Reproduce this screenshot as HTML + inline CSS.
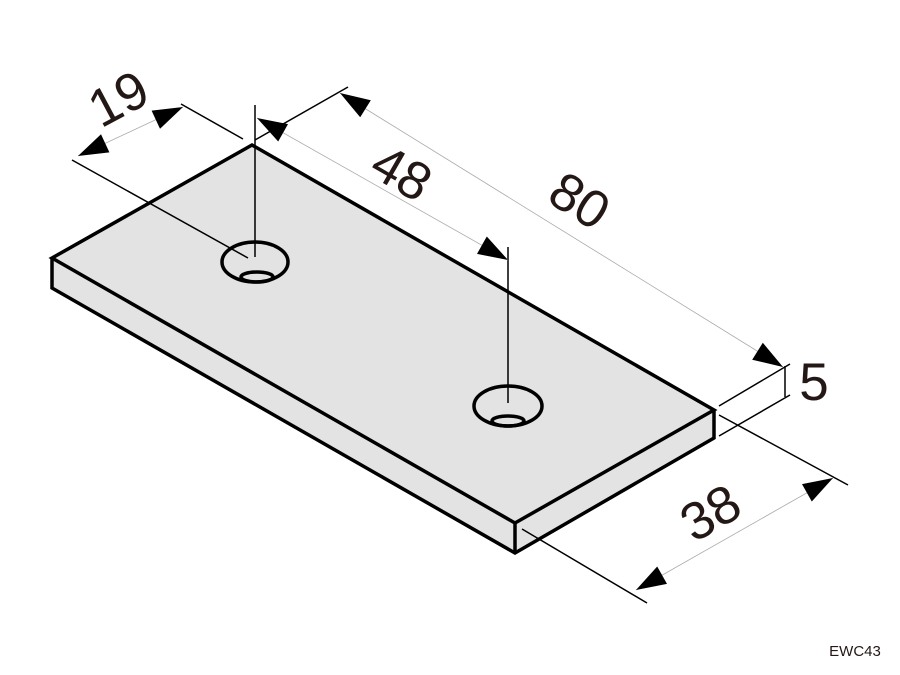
<!DOCTYPE html>
<html><head><meta charset="utf-8"><style>html,body{margin:0;padding:0;background:#fff}svg{display:block}</style></head>
<body>
<svg width="900" height="675" viewBox="0 0 900 675" xmlns="http://www.w3.org/2000/svg">
<polygon points="252,145 714,410 714,438 515,553 52,288 52,258" fill="#e3e3e3"/>
<g fill="none" stroke="#000" stroke-width="3.5" stroke-linejoin="miter">
<polygon points="252,145 714,410 515,523 52,258"/>
<polyline points="52,258 52,288 515,553 714,438 714,410"/>
<line x1="515" y1="523" x2="515" y2="553"/>
</g>
<g fill="none" stroke="#000" stroke-width="3.5">
<ellipse cx="255" cy="262" rx="33" ry="20"/>
<ellipse cx="257" cy="277" rx="16" ry="5"/>
<ellipse cx="508" cy="406" rx="34" ry="20"/>
<ellipse cx="508" cy="421" rx="16" ry="5"/>
</g>
<g stroke="#000" stroke-width="1.5">
<line x1="255" y1="105" x2="255" y2="257"/>
<line x1="508" y1="247" x2="508" y2="403"/>
<line x1="72" y1="160" x2="248" y2="258"/>
<line x1="181" y1="104" x2="243" y2="139"/>
<line x1="255" y1="140" x2="348" y2="87"/>
<line x1="719" y1="406" x2="790" y2="364"/>
<line x1="719" y1="436" x2="790" y2="395"/>
<line x1="785" y1="366" x2="785" y2="397"/>
<line x1="719" y1="415" x2="848" y2="485"/>
<line x1="522" y1="529" x2="647" y2="603"/>
</g>
<g stroke="#aaa" stroke-width="0.8">
<line x1="78" y1="156" x2="183" y2="107"/>
<line x1="257" y1="118" x2="508" y2="260"/>
<line x1="340" y1="93" x2="783" y2="367"/>
<line x1="636" y1="590" x2="833" y2="478"/>
</g>
<g fill="#000">
<polygon points="183,107 160,128.8 151.6,110.6"/>
<polygon points="78,156 109.4,152.4 101,134.2"/>
<polygon points="257,118 278.2,141.5 288,124.1"/>
<polygon points="508,260 477,253.9 486.8,236.5"/>
<polygon points="340,93 360.2,117.3 370.8,100.3"/>
<polygon points="783,367 752.2,359.7 762.8,342.7"/>
<polygon points="833,478 811.8,501.5 802,484.1"/>
<polygon points="636,590 667,583.9 657.2,566.5"/>
</g>
<g font-family="Liberation Sans, sans-serif" font-size="53" fill="#231815" text-anchor="middle">
<text x="0" y="19" transform="translate(118,98) rotate(-28)">19</text>
<text x="0" y="19" transform="translate(402,172) rotate(30)">48</text>
<text x="0" y="19" transform="translate(580,200) rotate(32)">80</text>
<text x="0" y="19" transform="translate(710,512) rotate(-30)">38</text>
<text x="814" y="400">5</text>
</g>
<text x="855" y="656" font-family="Liberation Sans, sans-serif" font-size="15" fill="#231815" text-anchor="middle">EWC43</text>
</svg>
</body></html>
